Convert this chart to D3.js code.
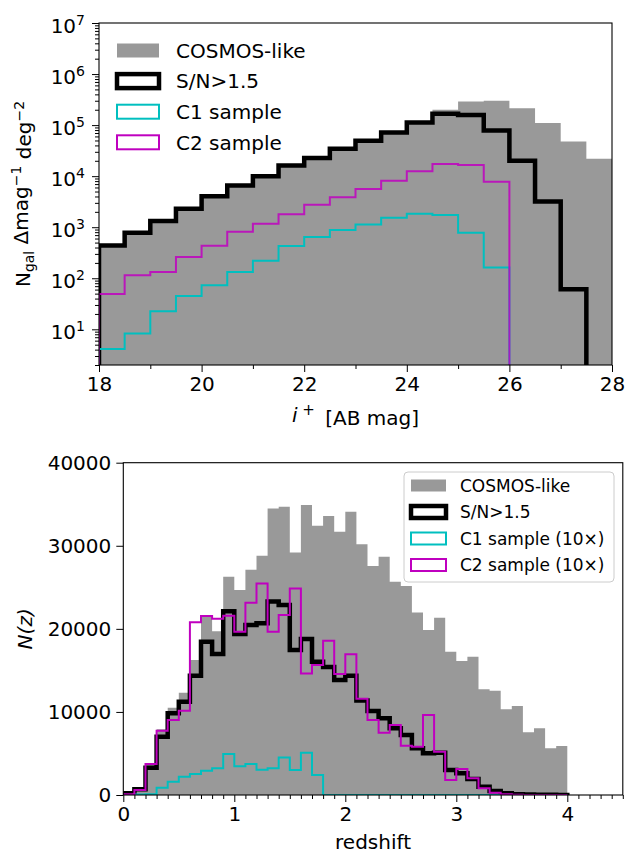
<!DOCTYPE html>
<html>
<head>
<meta charset="utf-8">
<script src="https://cdn.jsdelivr.net/npm/d3@7"></script>
<style>
body { margin: 0; background: #fff; }
text { font-family: "DejaVu Sans", sans-serif; }
</style>
</head>
<body>
<div id="chart"></div>
<script>
// ---- top panel: magnitude histograms (bins of 0.5 mag) ----
var magEdges = [18, 18.5, 19, 19.5, 20, 20.5, 21, 21.5, 22, 22.5, 23, 23.5, 24, 24.5, 25, 25.5, 26, 26.5, 27, 27.5, 28]
var cosmosMag = [460, 800, 1350, 2350, 4150, 6700, 10300, 16500, 23400, 35500, 51000, 74000, 118000, 200000, 290000, 300000, 215000, 110000, 48000, 22000]
var snMag = [440, 780, 1320, 2300, 4050, 6550, 10000, 16100, 22800, 34600, 49600, 72000, 113000, 167000, 158000, 78000, 20000, 3200, 61, 0]
var c1Mag = [4.1, 8.3, 22.6, 45, 73, 132, 221, 430, 640, 880, 1130, 1530, 1830, 1730, 780, 162, 0, 0, 0, 0]
var c2Mag = [49, 115, 132, 260, 434, 815, 1170, 1800, 2750, 3880, 5600, 8100, 12500, 17400, 16600, 7740, 0, 0, 0, 0]
var magTicks = [18, 20, 22, 24, 26, 28]
var magMinor = [19, 21, 23, 25, 27]
var logTicks = [1e1, 1e2, 1e3, 1e4, 1e5, 1e6, 1e7]

// ---- bottom panel: redshift histograms (bins of 0.1) ----
var zEdges = [0, 0.1, 0.2, 0.3, 0.4, 0.5, 0.6, 0.7, 0.8, 0.9, 1.0, 1.1, 1.2, 1.3, 1.4, 1.5, 1.6, 1.7, 1.8, 1.9, 2.0,
              2.1, 2.2, 2.3, 2.4, 2.5, 2.6, 2.7, 2.8, 2.9, 3.0, 3.1, 3.2, 3.3, 3.4, 3.5, 3.6, 3.7, 3.8, 3.9, 4.0]
var cosmosZ = [400, 800, 3700, 7900, 10500, 12300, 16250, 21460, 19700, 26270, 24670, 27120, 28800, 34500, 34700, 29200, 34900, 32400, 33570, 31680,
               34090, 30170, 27560, 28680, 25670, 25150, 21980, 19860, 21340, 17250, 16120, 16640, 12720, 12550, 10310, 10710, 7540, 8020, 5620, 5900]
var snZ = [200, 690, 3290, 7020, 9830, 11230, 14360, 18450, 16970, 22120, 19370, 20460, 20660, 23300, 22860, 17450, 18770, 16040, 15400, 13840,
           14360, 11380, 10100, 9250, 8020, 7220, 5620, 5020, 5090, 3010, 2610, 1930, 1000, 480, 200, 100, 50, 30, 20, 10]
var c1Z = [0, 50, 100, 880, 1600, 2200, 2530, 2930, 3210, 4950, 3450, 3730, 3050, 3210, 4500, 3010, 5090, 2400, 0, 0,
           0, 0, 0, 0, 0, 0, 0, 0, 0, 0, 0, 0, 0, 0, 0, 0, 0, 0, 0, 0]
var c2Z = [100, 600, 3730, 7740, 9030, 10150, 20780, 21540, 21220, 21580, 19650, 23140, 25470, 19650, 21660, 24870, 14640, 15640, 18570, 14560,
           16930, 11600, 9030, 7500, 8420, 5930, 5810, 9630, 5210, 1800, 3130, 2010, 810, 280, 100, 30, 10, 0, 0, 0]
var zTicks = [0, 1, 2, 3, 4]
var nTicks = [0, 10000, 20000, 30000, 40000]

var grey = "#999999", cyan = "#00bfbf", magenta = "#bf00bf"
var W = 630, H = 854

var svg = d3.select("#chart").append("svg").attr("width", W).attr("height", H)

// outline of a histogram: up from the floor, across each bin, back down
function stepPoints(edges, vals, floor) {
    var pts = [[edges[0], floor]]
    for (var i = 0; i < vals.length; i++) {
        pts.push([edges[i], vals[i]])
        pts.push([edges[i + 1], vals[i]])
    }
    pts.push([edges[edges.length - 1], floor])
    return pts
}

function styleAxis(g) {
    g.select(".domain").remove()
    g.selectAll(".tick line").attr("stroke", "#000").attr("stroke-width", 1)
    g.selectAll(".tick text").attr("fill", "#000").style("font-size", "20px").style("font-family", "DejaVu Sans")
}

// ================= TOP PANEL =================
var t = {left: 99, right: 612, top: 23, bottom: 365}
var xTop = d3.scaleLinear().domain([18, 28]).range([t.left, t.right])
var yTop = d3.scaleLog().domain([2, 1e7]).range([t.bottom, t.top])
var logFloor = 1e-3
function ly(v) { return yTop(v > 0 ? v : logFloor) }

svg.append("clipPath").attr("id", "clipTop").append("rect")
    .attr("x", t.left).attr("y", t.top).attr("width", t.right - t.left).attr("height", t.bottom - t.top)

var gTop = svg.append("g").attr("clip-path", "url(#clipTop)")
var lineTop = d3.line().x(function(d) { return xTop(d[0]) }).y(function(d) { return ly(d[1]) })

gTop.append("path").attr("d", lineTop(stepPoints(magEdges, cosmosMag, logFloor)) + "Z")
    .attr("fill", grey).attr("stroke", "none")
gTop.append("path").attr("d", lineTop(stepPoints(magEdges, snMag, logFloor)))
    .attr("fill", "none").attr("stroke", "#000").attr("stroke-width", 4.5)
gTop.append("path").attr("d", lineTop(stepPoints(magEdges, c1Mag, logFloor)))
    .attr("fill", "none").attr("stroke", cyan).attr("stroke-width", 2)
gTop.append("path").attr("d", lineTop(stepPoints(magEdges, c2Mag, logFloor)))
    .attr("fill", "none").attr("stroke", magenta).attr("stroke-width", 2).attr("stroke-opacity", 0.85)

// axes
var axXTop = svg.append("g").attr("transform", "translate(0," + t.bottom + ")")
    .call(d3.axisBottom(xTop).tickValues(magTicks).tickSize(7).tickPadding(5).tickFormat(d3.format("d")))
styleAxis(axXTop)
var axXTopMin = svg.append("g").attr("transform", "translate(0," + t.bottom + ")")
    .call(d3.axisBottom(xTop).tickValues(magMinor).tickSize(4).tickFormat(""))
styleAxis(axXTopMin)

var axYTop = svg.append("g").attr("transform", "translate(" + t.left + ",0)")
    .call(d3.axisLeft(yTop).tickValues(logTicks).tickSize(7).tickPadding(5).tickFormat(""))
styleAxis(axYTop)
axYTop.selectAll(".tick text").each(function(d) {
    var el = d3.select(this).attr("dy", "0.45em").attr("x", -14)
    el.append("tspan").text("10")
    el.append("tspan").attr("dy", "-0.55em").style("font-size", "14px").text(Math.round(Math.log10(d)))
})
var minorLog = yTop.ticks().filter(function(d) {
    var e = Math.log10(d); return Math.abs(e - Math.round(e)) > 1e-6
})
var axYTopMin = svg.append("g").attr("transform", "translate(" + t.left + ",0)")
    .call(d3.axisLeft(yTop).tickValues(minorLog).tickSize(4).tickFormat(""))
styleAxis(axYTopMin)

svg.append("rect").attr("x", t.left).attr("y", t.top).attr("width", t.right - t.left).attr("height", t.bottom - t.top)
    .attr("fill", "none").attr("stroke", "#000").attr("stroke-width", 1.1)

// labels
var xl = svg.append("text").attr("x", (t.left + t.right) / 2).attr("y", 422).attr("text-anchor", "middle").style("font-size", "20px")
xl.append("tspan").style("font-style", "italic").text("i")
xl.append("tspan").attr("dy", "-0.5em").style("font-size", "15px").text(" +")
xl.append("tspan").attr("dy", "0.5em").text("\u2009 [AB mag]")

var yl = svg.append("text").attr("transform", "translate(30," + ((t.top + t.bottom) / 2) + ") rotate(-90)")
    .attr("text-anchor", "middle").style("font-size", "20px")
yl.append("tspan").text("N")
yl.append("tspan").attr("dy", "0.3em").style("font-size", "14px").text("gal")
yl.append("tspan").attr("dy", "-0.3em").text(" \u0394mag")
yl.append("tspan").attr("dy", "-0.5em").style("font-size", "14px").text("\u22121")
yl.append("tspan").attr("dy", "0.5em").text(" deg")
yl.append("tspan").attr("dy", "-0.5em").style("font-size", "14px").text("\u22122")

// legend (no frame)
var legTop = [
    {label: "COSMOS-like", fill: grey, stroke: "none", sw: 0},
    {label: "S/N>1.5", fill: "none", stroke: "#000", sw: 4.5},
    {label: "C1 sample", fill: "none", stroke: cyan, sw: 2},
    {label: "C2 sample", fill: "none", stroke: magenta, sw: 2}
]
var lt = svg.append("g")
lt.selectAll("rect").data(legTop).enter().append("rect")
    .attr("x", 117).attr("y", function(d, i) { return 43.5 + i * 30.6 })
    .attr("width", 42).attr("height", 14)
    .attr("fill", function(d) { return d.fill }).attr("stroke", function(d) { return d.stroke })
    .attr("stroke-width", function(d) { return d.sw })
lt.selectAll("text").data(legTop).enter().append("text")
    .attr("x", 176).attr("y", function(d, i) { return 50.5 + i * 30.6 }).attr("dy", "0.36em")
    .style("font-size", "20px").text(function(d) { return d.label })

// ================= BOTTOM PANEL =================
var b = {left: 123.3, right: 622.8, top: 462.7, bottom: 795}
var xBot = d3.scaleLinear().domain([0, 4.5]).range([b.left, b.right])
var yBot = d3.scaleLinear().domain([0, 40000]).range([b.bottom, b.top])

svg.append("clipPath").attr("id", "clipBot").append("rect")
    .attr("x", b.left).attr("y", b.top).attr("width", b.right - b.left).attr("height", b.bottom - b.top)
var gBot = svg.append("g").attr("clip-path", "url(#clipBot)")

var lineBot = d3.line().x(function(d) { return xBot(d[0]) }).y(function(d) { return yBot(d[1]) })
gBot.append("path").attr("d", lineBot(stepPoints(zEdges, cosmosZ, 0)) + "Z")
    .attr("fill", grey).attr("stroke", "none")
gBot.append("path").attr("d", lineBot(stepPoints(zEdges, snZ, 0)))
    .attr("fill", "none").attr("stroke", "#000").attr("stroke-width", 4.5)
gBot.append("path").attr("d", lineBot(stepPoints(zEdges, c1Z, 0)))
    .attr("fill", "none").attr("stroke", cyan).attr("stroke-width", 2)
gBot.append("path").attr("d", lineBot(stepPoints(zEdges, c2Z, 0)))
    .attr("fill", "none").attr("stroke", magenta).attr("stroke-width", 2)

var axXBot = svg.append("g").attr("transform", "translate(0," + b.bottom + ")")
    .call(d3.axisBottom(xBot).tickValues(zTicks).tickSize(7).tickPadding(5).tickFormat(d3.format("d")))
styleAxis(axXBot)
var zMinor = d3.range(1, 46).map(function(k) { return k / 10 }).filter(function(d) { return Math.abs(d - Math.round(d)) > 1e-6 })
var axXBotMin = svg.append("g").attr("transform", "translate(0," + b.bottom + ")")
    .call(d3.axisBottom(xBot).tickValues(zMinor).tickSize(4).tickFormat(""))
styleAxis(axXBotMin)

var axYBot = svg.append("g").attr("transform", "translate(" + b.left + ",0)")
    .call(d3.axisLeft(yBot).tickValues(nTicks).tickSize(7).tickPadding(5).tickFormat(d3.format("d")))
styleAxis(axYBot)

svg.append("rect").attr("x", b.left).attr("y", b.top).attr("width", b.right - b.left).attr("height", b.bottom - b.top)
    .attr("fill", "none").attr("stroke", "#000").attr("stroke-width", 1.1)

svg.append("text").attr("x", (b.left + b.right) / 2).attr("y", 849).attr("text-anchor", "middle")
    .style("font-size", "20px").text("redshift")
svg.append("text").attr("transform", "translate(32," + ((b.top + b.bottom) / 2) + ") rotate(-90)")
    .attr("text-anchor", "middle").style("font-size", "20px").style("font-style", "italic").text("N(z)")

// legend (framed, upper right)
var legBot = [
    {label: "COSMOS-like", fill: grey, stroke: "none", sw: 0},
    {label: "S/N>1.5", fill: "none", stroke: "#000", sw: 4.5},
    {label: "C1 sample (10\u00d7)", fill: "none", stroke: cyan, sw: 2},
    {label: "C2 sample (10\u00d7)", fill: "none", stroke: magenta, sw: 2}
]
var lb = svg.append("g")
lb.append("rect").attr("x", 404).attr("y", 472).attr("width", 210).attr("height", 110).attr("rx", 4)
    .attr("fill", "#fff").attr("fill-opacity", 0.8).attr("stroke", "#cccccc").attr("stroke-width", 1)
lb.selectAll("rect.item").data(legBot).enter().append("rect").attr("class", "item")
    .attr("x", 411).attr("y", function(d, i) { return 479.5 + i * 26.5 })
    .attr("width", 35).attr("height", 12)
    .attr("fill", function(d) { return d.fill }).attr("stroke", function(d) { return d.stroke })
    .attr("stroke-width", function(d) { return d.sw })
lb.selectAll("text").data(legBot).enter().append("text")
    .attr("x", 460).attr("y", function(d, i) { return 485.5 + i * 26.5 }).attr("dy", "0.36em")
    .style("font-size", "17px").text(function(d) { return d.label })
</script>
</body>
</html>
